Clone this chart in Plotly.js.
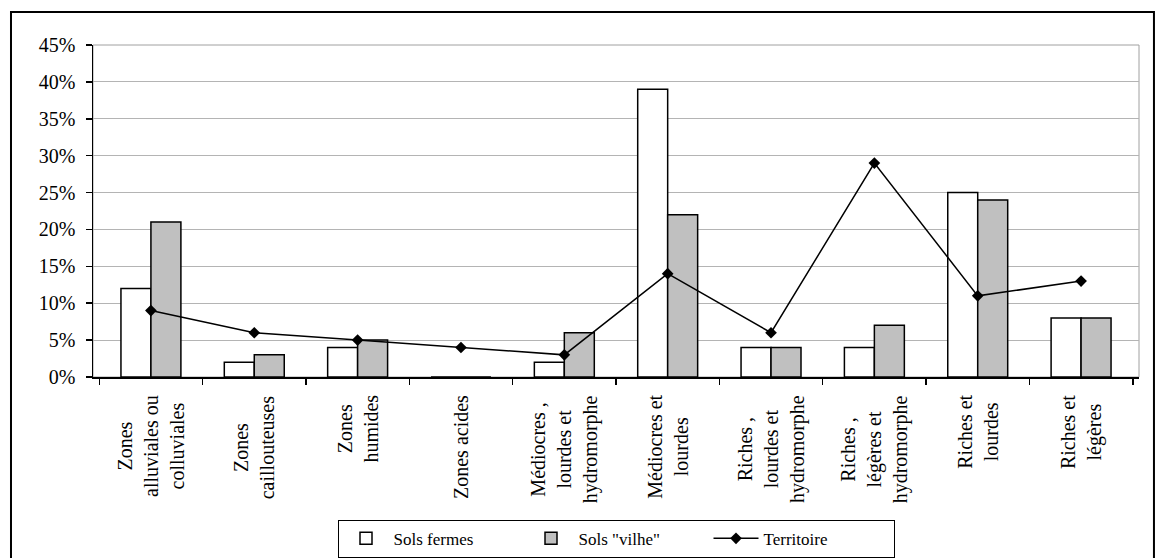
<!DOCTYPE html>
<html>
<head>
<meta charset="utf-8">
<script src="https://cdn.plot.ly/plotly-3.0.1.min.js"></script>
<style>
  html, body { margin: 0; padding: 0; background: #ffffff; }
  #chart { width: 1156px; height: 558px; }
</style>
</head>
<body>
<div id="chart"></div>
<script>
// ---- data (percentages) ----
const categories = [
  "Zones<br>alluviales ou<br>colluviales",
  "Zones<br>caillouteuses",
  "Zones<br>humides",
  "Zones acides",
  "Médiocres ,<br>lourdes et<br>hydromorphe",
  "Médiocres et<br>lourdes",
  "Riches ,<br>lourdes et<br>hydromorphe",
  "Riches ,<br>légères et<br>hydromorphe",
  "Riches et<br>lourdes",
  "Riches et<br>légères"
];
const solsFermes = [12, 2, 4, 0, 2, 39, 4, 4, 25, 8];
const solsVilhe  = [21, 3, 5, 0, 6, 22, 4, 7, 24, 8];
const territoire = [9, 6, 5, 4, 3, 14, 6, 29, 11, 13];
const seriesNames = ["Sols fermes", "Sols \"vilhe\"", "Territoire"];
const yTicks = [0, 5, 10, 15, 20, 25, 30, 35, 40, 45];

const serif = "Liberation Serif, Times New Roman, serif";

const traces = [
  {
    type: "bar", name: seriesNames[0], x: categories, y: solsFermes,
    marker: { color: "#ffffff", line: { color: "#000000", width: 1.5 } }
  },
  {
    type: "bar", name: seriesNames[1], x: categories, y: solsVilhe,
    marker: { color: "#c0c0c0", line: { color: "#000000", width: 1.5 } }
  },
  {
    type: "scatter", mode: "lines+markers", name: seriesNames[2], x: categories, y: territoire,
    line: { color: "#000000", width: 1.5 },
    marker: { symbol: "diamond", size: 9, color: "#000000" }
  }
];

// category labels, centred multi-line, rotated
const labelAnnotations = categories.map(c => ({
  x: c, xref: "x", y: 0, yref: "paper", yshift: -16,
  xanchor: "center", yanchor: "top",
  textangle: -90, align: "center", showarrow: false,
  text: c, font: { family: serif, size: 20, color: "#000000" }
}));

const layout = {
  width: 1156, height: 558,
  margin: { l: 93, r: 17, t: 45, b: 181, autoexpand: false },
  paper_bgcolor: "#ffffff", plot_bgcolor: "#ffffff",
  font: { family: serif, color: "#000000" },
  barmode: "group",
  bargap: 0.42,
  bargroupgap: 0,
  showlegend: true,
  legend: {
    orientation: "h", x: 0.5, xanchor: "center", y: -0.43, yanchor: "top",
    font: { family: serif, size: 17, color: "#000000" },
    bordercolor: "#000000", borderwidth: 1, bgcolor: "#ffffff",
    entrywidth: 125, itemwidth: 45, traceorder: "normal"
  },
  xaxis: {
    type: "category",
    showticklabels: false,
    showline: true, linecolor: "#000000", linewidth: 1.5,
    ticks: "outside", tickson: "boundaries", ticklen: 6, tickcolor: "#000000", tickwidth: 1.5,
    showgrid: false, zeroline: false, fixedrange: true
  },
  yaxis: {
    range: [0, 45],
    tickvals: yTicks,
    ticktext: yTicks.map(v => v + "%"),
    tickfont: { family: serif, size: 20, color: "#000000" },
    showline: true, linecolor: "#000000", linewidth: 1.5,
    ticks: "outside", ticklen: 6, tickcolor: "#000000", tickwidth: 1.5,
    ticklabelstandoff: 6,
    showgrid: true, gridcolor: "#b4b4b4", gridwidth: 1,
    zeroline: false, fixedrange: true
  },
  annotations: labelAnnotations,
  shapes: [
    { type: "rect", xref: "paper", yref: "paper", x0: 0, x1: 1, y0: 0, y1: 1,
      line: { color: "#a0a0a0", width: 1 }, layer: "below" },
    { type: "rect", xref: "paper", yref: "paper", x0: -0.0784, x1: 1.0143, y0: -0.56, y1: 1.0994,
      line: { color: "#000000", width: 2 }, layer: "below" }
  ]
};

Plotly.newPlot("chart", traces, layout, { displayModeBar: false, staticPlot: true });
</script>
</body>
</html>
